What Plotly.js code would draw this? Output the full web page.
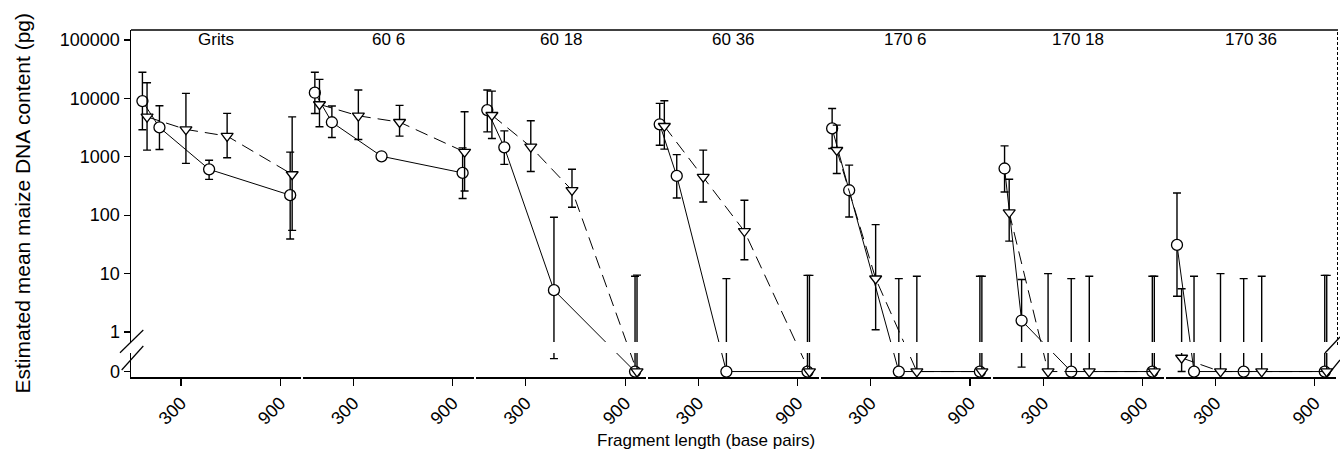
<!DOCTYPE html>
<html><head><meta charset="utf-8">
<script src="https://cdn.plot.ly/plotly-3.0.1.min.js"></script>
<style>html,body{margin:0;padding:0;background:#fff}</style>
</head><body>
<div id="chart" style="width:1340px;height:475px"></div>
<script>
// ---- data (pg of maize DNA; 0 = not detected) ----
const panelLabels = ['Grits', '60 6', '60 18', '60 36', '170 6', '170 18', '170 36'];
const lengthsCircle = [67, 170, 470, 960];
const lengthsTriangle = [95, 330, 579, 972];

const circleMean = [
  [8990, 3180, 610, 220],
  [12500, 3900, 1020, 530],
  [6300, 1450, 5.2, 0],
  [3600, 470, 0, 0],
  [3060, 267, 0, 0],
  [630, 1.57, 0, 0],
  [31, 0, 0, 0]
];
const circleLow = [
  [2900, 1330, 410, 39],
  [5500, 2140, 1020, 193],
  [2670, 740, 0.35, 0],
  [1580, 197, 0, 0],
  [1390, 93, 0, 0],
  [250, 0.25, 0, 0],
  [4.1, 0, 0, 0]
];
const circleHigh = [
  [28000, 7500, 870, 1200],
  [28000, 7400, 1020, 1420],
  [13900, 2780, 92, 9.0],
  [8200, 1090, 8.2, 9.3],
  [6700, 720, 8.2, 9.0],
  [1540, 7.9, 8.2, 9.0],
  [240, 9.0, 8.2, 9.3]
];
const triMean = [
  [4830, 2940, 2260, 500],
  [7900, 5030, 3920, 1210],
  [5170, 1480, 267, 0],
  [3350, 452, 53, 0],
  [1300, 8.2, 0, 0],
  [111, 0, 0, 0],
  [0.36, 0, 0, 0]
];
const triLow = [
  [1300, 770, 960, 55],
  [3260, 1980, 2260, 260],
  [2060, 560, 137, 0],
  [1350, 168, 17.3, 0],
  [517, 1.09, 0, 0],
  [36, 0, 0, 0],
  [0, 0, 0, 0]
];
const triHigh = [
  [18500, 12200, 5530, 4830],
  [21200, 13900, 7600, 5900],
  [13300, 4130, 613, 9.4],
  [9100, 1300, 180, 9.3],
  [3480, 69, 9.0, 9.0],
  [413, 10, 9.0, 9.0],
  [5.5, 10, 9.0, 9.3]
];

const yTickVals = [0, 1, 10, 100, 1000, 10000, 100000];
const yTickText = ['0', '1', '10', '100', '1000', '10000', '100000'];
const xTickVals = [300, 900];
const xTickText = ['300', '900'];

// ---- broken axis: zero is drawn below the break on the log axis ----
const ZERO_POS = 0.21;
const pos = v => (v === 0 ? ZERO_POS : v);

const FONT = 'Liberation Sans, Arial, Helvetica, sans-serif';
const PW = 1207;                 // plot width in px
const GAP = 2 / PW;              // small gap between panels
const N = panelLabels.length;

const traces = [];
const layout = {
  width: 1340, height: 475,
  margin: {l: 131, r: 2, t: 30, b: 98, pad: 0},
  paper_bgcolor: '#fff', plot_bgcolor: 'rgba(0,0,0,0)',
  showlegend: false,
  font: {family: FONT, color: '#000', size: 17},
  yaxis: {
    type: 'log', range: [-0.771, 5.171], anchor: 'x',
    tickvals: yTickVals.map(pos), ticktext: yTickText,
    ticks: 'outside', ticklen: 6, tickwidth: 1.2, tickcolor: '#000',
    showline: true, linewidth: 1.5, linecolor: '#000',
    showgrid: false, zeroline: false,
    tickfont: {family: FONT, size: 18, color: '#000'}
  },
  annotations: [],
  shapes: []
};

function errs(mean, lo, hi) {
  const m = mean.map(pos);
  return {
    type: 'data', symmetric: false,
    array: hi.map((h, k) => pos(h) - m[k]),
    arrayminus: lo.map((l, k) => m[k] - pos(l)),
    color: '#000', thickness: 1.4, width: 4
  };
}

for (let i = 0; i < N; i++) {
  const xa = i === 0 ? 'x' : 'x' + (i + 1);
  const axKey = i === 0 ? 'xaxis' : 'xaxis' + (i + 1);
  traces.push({
    type: 'scatter', mode: 'lines+markers', xaxis: xa, yaxis: 'y',
    x: lengthsCircle, y: circleMean[i].map(pos),
    error_y: errs(circleMean[i], circleLow[i], circleHigh[i]),
    line: {color: '#000', width: 1},
    marker: {symbol: 'circle', size: 11, color: '#fff', line: {color: '#000', width: 1.3}},
    cliponaxis: false, hoverinfo: 'skip'
  });
  traces.push({
    type: 'scatter', mode: 'lines+markers', xaxis: xa, yaxis: 'y',
    x: lengthsTriangle, y: triMean[i].map(pos),
    error_y: errs(triMean[i], triLow[i], triHigh[i]),
    line: {color: '#000', width: 1, dash: '13px,7px'},
    marker: {symbol: 'triangle-down', size: 10.5, color: '#fff', line: {color: '#000', width: 1.3}},
    cliponaxis: false, hoverinfo: 'skip'
  });
  const d0 = i / N, d1 = (i + 1) / N - GAP;
  layout[axKey] = {
    domain: [d0, d1], range: [-2, 1028], anchor: 'y',
    tickvals: xTickVals, ticktext: xTickText, tickangle: -45,
    ticks: 'outside', ticklen: 7, tickwidth: 1.2, tickcolor: '#000',
    showline: true, linewidth: 1.5, linecolor: '#000',
    showgrid: false, zeroline: false,
    tickfont: {family: FONT, size: 18, color: '#000'}
  };
  layout.annotations.push({
    text: panelLabels[i], xref: 'paper', yref: 'paper',
    x: (d0 + d1) / 2, y: (377 - 40) / 347, xanchor: 'center', yanchor: 'middle',
    showarrow: false, font: {family: FONT, size: 17, color: '#000'}
  });
}

// axis titles
layout.annotations.push({
  text: 'Estimated mean maize DNA content (pg)', textangle: -90,
  xref: 'paper', yref: 'paper', x: (22 - 131) / PW, y: 0.5,
  xanchor: 'center', yanchor: 'middle', showarrow: false,
  font: {family: FONT, size: 21, color: '#000'}
});
layout.annotations.push({
  text: 'Fragment length (base pairs)',
  xref: 'paper', yref: 'paper', x: (706 - 131) / PW, y: (377 - 440) / 347,
  xanchor: 'center', yanchor: 'middle', showarrow: false,
  font: {family: FONT, size: 17, color: '#000'}
});

const px = v => (v - 131) / PW;
const py = v => (377 - v) / 347;
const L = {color: '#000', width: 1.2};
layout.shapes = [
  // white band of the axis break
  {type: 'rect', xref: 'paper', yref: 'paper', layer: 'above',
   x0: px(127), x1: px(1335), y0: py(353), y1: py(342),
   fillcolor: '#fff', line: {width: 0}},
  // top frame
  {type: 'line', xref: 'paper', yref: 'paper', layer: 'above',
   x0: 0, x1: 1, y0: 1, y1: 1, line: {color: '#000', width: 1.5}},
  // right dashed frame
  {type: 'line', xref: 'paper', yref: 'paper', layer: 'above',
   x0: px(1337.5), x1: px(1337.5), y0: py(345), y1: 1,
   line: {color: '#000', width: 1, dash: '3px,2px'}},
  // left break marks
  {type: 'line', xref: 'paper', yref: 'paper', layer: 'above',
   x0: px(120), y0: py(352.7), x1: px(143.3), y1: py(330), line: L},
  {type: 'line', xref: 'paper', yref: 'paper', layer: 'above',
   x0: px(121.7), y0: py(370), x1: px(143.3), y1: py(346), line: L},
  // right break marks
  {type: 'line', xref: 'paper', yref: 'paper', layer: 'above',
   x0: px(1325), y0: py(353), x1: px(1340), y1: py(337), line: L},
  {type: 'line', xref: 'paper', yref: 'paper', layer: 'above',
   x0: px(1327), y0: py(376), x1: px(1340), y1: py(360), line: L}
];

Plotly.newPlot('chart', traces, layout, {staticPlot: true, displayModeBar: false});
</script>
</body></html>
